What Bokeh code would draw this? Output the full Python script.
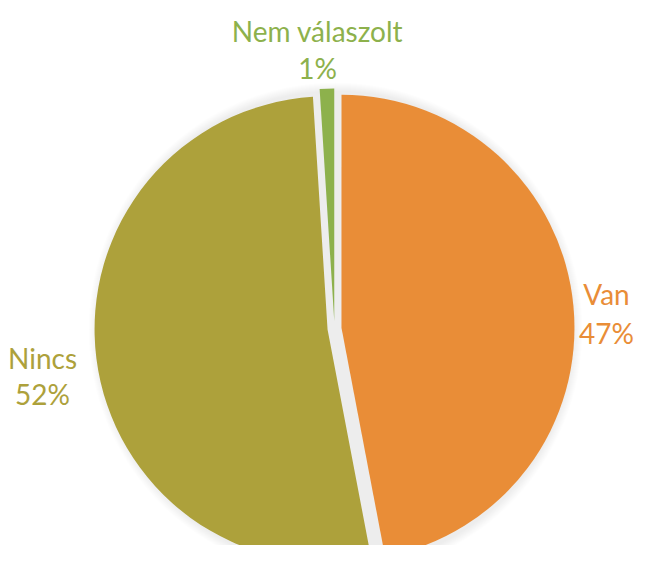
from bokeh.plotting import figure
from bokeh.models import Range1d, ColumnDataSource
from bokeh.embed import file_html
from bokeh.resources import INLINE
from bokeh.core.properties import value
import math

categories = ["Van", "Nincs", "Nem válaszolt"]
values = [47, 52, 1]
colors = ["#E98D37", "#ADA13B", "#8DB14C"]
percent_labels = ["47%", "52%", "1%"]

W, H = 634, 545
p = figure(width=W, height=H, output_backend="svg", toolbar_location=None,
           x_range=Range1d(0, W), y_range=Range1d(0, H), min_border=0)
p.axis.visible = False
p.grid.visible = False
p.outline_line_color = None
p.background_fill_color = "white"
p.border_fill_color = "white"


def Y(y_pic):
    return H - y_pic


cx, cy = 334, Y(328)
R = 233
explode = 7

total = sum(values)
starts, ends, xs, ys = [], [], [], []
acc = 0.0
for v in values:
    a0 = acc / total * 360.0
    a1 = (acc + v) / total * 360.0
    mid = math.radians((a0 + a1) / 2)
    xs.append(cx + explode * math.sin(mid))
    ys.append(cy + explode * math.cos(mid))
    starts.append(math.radians(90 - a0))
    ends.append(math.radians(90 - a1))
    acc += v

# soft shadow
for i in range(9, 0, -1):
    p.circle(x=[cx + 1], y=[cy - 1], radius=R + explode + i - 2, fill_color="#000000",
             fill_alpha=0.007, line_color=None)

src = ColumnDataSource(dict(x=xs, y=ys, start=starts, end=ends, color=colors))
p.wedge(x="x", y="y", radius=R, start_angle="start", end_angle="end",
        direction="clock", fill_color="color", line_color=None, source=src)

# labels: (category line baseline, percent line baseline) in picture pixels
lab_x = [606, 42, 317]
name_base = [293, 357, 30]
pct_base = [332, 393, 67]
for name, pct, x, yb1, yb2, c in zip(categories, percent_labels, lab_x,
                                     name_base, pct_base, colors):
    p.text(x=[x], y=[Y(yb1)], text=[name], text_color=c, text_font=value("Lato"),
           text_font_size="28px", text_align="center", text_baseline="alphabetic")
    p.text(x=[x], y=[Y(yb2)], text=[pct], text_color=c, text_font=value("Lato"),
           text_font_size="28px", text_align="center", text_baseline="alphabetic")

open("out.html", "w").write(file_html(p, INLINE))
